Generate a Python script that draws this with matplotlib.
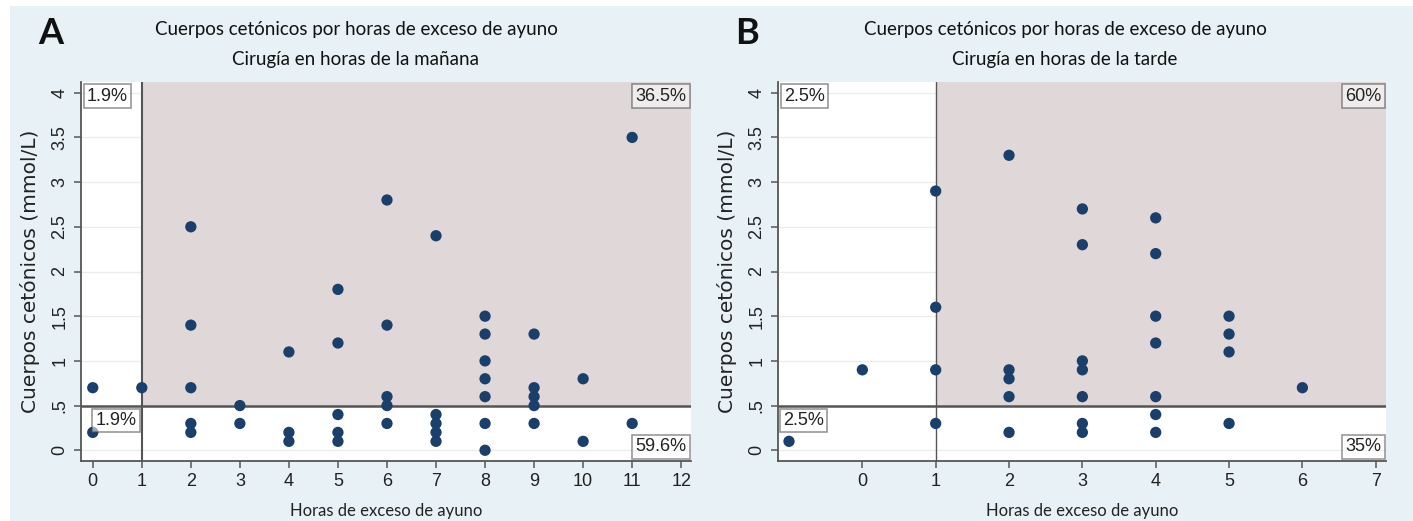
import matplotlib
matplotlib.use("Agg")
import matplotlib.pyplot as plt
from matplotlib.patches import Rectangle

# ---- data ----
a_x = [0, 0, 1, 2, 2, 2, 2, 2, 3, 3, 4, 4, 4, 5, 5, 5, 5, 5,
       6, 6, 6, 6, 6, 7, 7, 7, 7, 7, 8, 8, 8, 8, 8, 8, 8,
       9, 9, 9, 9, 9, 10, 10, 11, 11]
a_y = [0.7, 0.2, 0.7, 2.5, 1.4, 0.7, 0.3, 0.2, 0.5, 0.3, 1.1, 0.2, 0.1,
       1.8, 1.2, 0.4, 0.2, 0.1, 2.8, 1.4, 0.6, 0.5, 0.3, 2.4, 0.4, 0.3, 0.2, 0.1,
       1.5, 1.3, 1.0, 0.8, 0.6, 0.3, 0.0, 1.3, 0.7, 0.6, 0.5, 0.3, 0.8, 0.1,
       3.5, 0.3]
b_x = [-1, 0, 1, 1, 1, 1, 2, 2, 2, 2, 2, 3, 3, 3, 3, 3, 3, 3,
       4, 4, 4, 4, 4, 4, 4, 5, 5, 5, 5, 6]
b_y = [0.1, 0.9, 2.9, 1.6, 0.9, 0.3, 3.3, 0.9, 0.8, 0.6, 0.2,
       2.7, 2.3, 1.0, 0.9, 0.6, 0.3, 0.2,
       2.6, 2.2, 1.5, 1.2, 0.6, 0.4, 0.2, 1.5, 1.3, 1.1, 0.3, 0.7]

a_xticks = list(range(0, 13))
b_xticks = list(range(0, 8))
y_ticks = [0, 0.5, 1, 1.5, 2, 2.5, 3, 3.5, 4]
y_labels = ["0", ".5", "1", "1.5", "2", "2.5", "3", "3.5", "4"]

a_pct = ["1.9%", "36.5%", "1.9%", "59.6%"]   # TL, TR, BL, BR
b_pct = ["2.5%", "60%", "2.5%", "35%"]

title1 = "Cuerpos cetónicos por horas de exceso de ayuno"
a_title2 = "Cirugía en horas de la mañana"
b_title2 = "Cirugía en horas de la tarde"
xlabel = "Horas de exceso de ayuno"
ylabel = "Cuerpos cetónicos (mmol/L)"

x_cut = 1
y_cut = 0.5

W, H = 1413, 521
fig = plt.figure(figsize=(W / 100, H / 100), dpi=100, facecolor="white")
bg = "#e8f1f5"
fig.patches.append(Rectangle((10 / W, 0), 1 - 10 / W, 1 - 6 / H,
                             transform=fig.transFigure, facecolor=bg,
                             edgecolor="none", zorder=-10))

shade = "#e0d7d8"
navy = "#1a3f6b"
linec = "#555555"


def panel(rect, xs, ys, xticks, xlim, pcts, title2, letter, letter_x, title_x,
          bl_pos, vlw):
    ax = fig.add_axes(rect)
    ax.set_facecolor("white")
    ax.set_xlim(*xlim)
    ax.set_ylim(-0.12, 4.12)
    for yt in y_ticks:
        ax.axhline(yt, color="#ececec", lw=1.0, zorder=0)
    ax.add_patch(Rectangle((x_cut, y_cut), xlim[1] - x_cut, 4.12 - y_cut,
                           facecolor=shade, edgecolor="none", zorder=1))
    ax.axvline(x_cut, color=linec, lw=vlw, zorder=2)
    ax.axhline(y_cut, color=linec, lw=1.8, zorder=2)
    ax.scatter(xs, ys, s=66, color=navy, edgecolors="none", zorder=3,
               clip_on=False)
    for s in ["top", "right"]:
        ax.spines[s].set_visible(False)
    for s in ["left", "bottom"]:
        ax.spines[s].set_color(linec)
        ax.spines[s].set_linewidth(1.3)
    ax.set_xticks(xticks)
    ax.set_xticklabels([str(t) for t in xticks], fontfamily="Liberation Sans",
                       fontsize=13, color="#222222")
    ax.set_yticks(y_ticks)
    ax.set_yticklabels(y_labels, fontfamily="Liberation Sans", fontsize=13,
                       color="#222222", rotation=90, va="center")
    ax.tick_params(axis="both", direction="out", length=5, width=1.1,
                   color=linec, pad=4)
    ax.set_xlabel(xlabel, fontfamily="Lato", fontsize=12, color="#222222",
                  labelpad=9)
    ax.set_ylabel(ylabel, fontfamily="DejaVu Sans", fontsize=14.5,
                  color="#222222", labelpad=8)
    bbox = dict(boxstyle="square,pad=0.18", facecolor="white", alpha=0.55,
                edgecolor="#444444", lw=1.2)
    box_kw = dict(fontfamily="Liberation Sans", fontsize=13,
                  color="#222222", zorder=5)
    ax.text(0.01, 0.985, pcts[0], transform=ax.transAxes, ha="left", va="top",
            bbox=bbox, **box_kw)
    ax.text(0.993, 0.985, pcts[1], transform=ax.transAxes, ha="right",
            va="top", bbox=bbox, **box_kw)
    ax.text(bl_pos[0], bl_pos[1], pcts[2], ha="left", va="top", bbox=bbox,
            **box_kw)
    ax.text(0.993, 0.015, pcts[3], transform=ax.transAxes, ha="right",
            va="bottom", bbox=bbox, **box_kw)
    fig.text(letter_x / W, 1 - 33 / H, letter, fontfamily="Lato",
             fontweight="bold", fontsize=26, ha="center", va="center",
             color="#111111")
    fig.text(title_x / W, 1 - 30 / H, title1, fontfamily="Lato", fontsize=13.5,
             ha="center", va="center", color="#111111")
    fig.text(title_x / W, 1 - 60 / H, title2, fontfamily="Lato", fontsize=13.5,
             ha="center", va="center", color="#111111")
    return ax


panel([81 / W, 1 - 461 / H, (691 - 81) / W, (461 - 82) / H], a_x, a_y,
      a_xticks, (-0.24, 12.2), a_pct, a_title2, "A", 51, 356, (0.06, 0.43),
      1.5)
panel([778 / W, 1 - 461 / H, (1386 - 778) / W, (461 - 82) / H], b_x, b_y,
      b_xticks, (-1.15, 7.14), b_pct, b_title2, "B", 747, 1065, (-1.08, 0.43),
      1.0)

fig.savefig("out.png", dpi=100, facecolor="white")
